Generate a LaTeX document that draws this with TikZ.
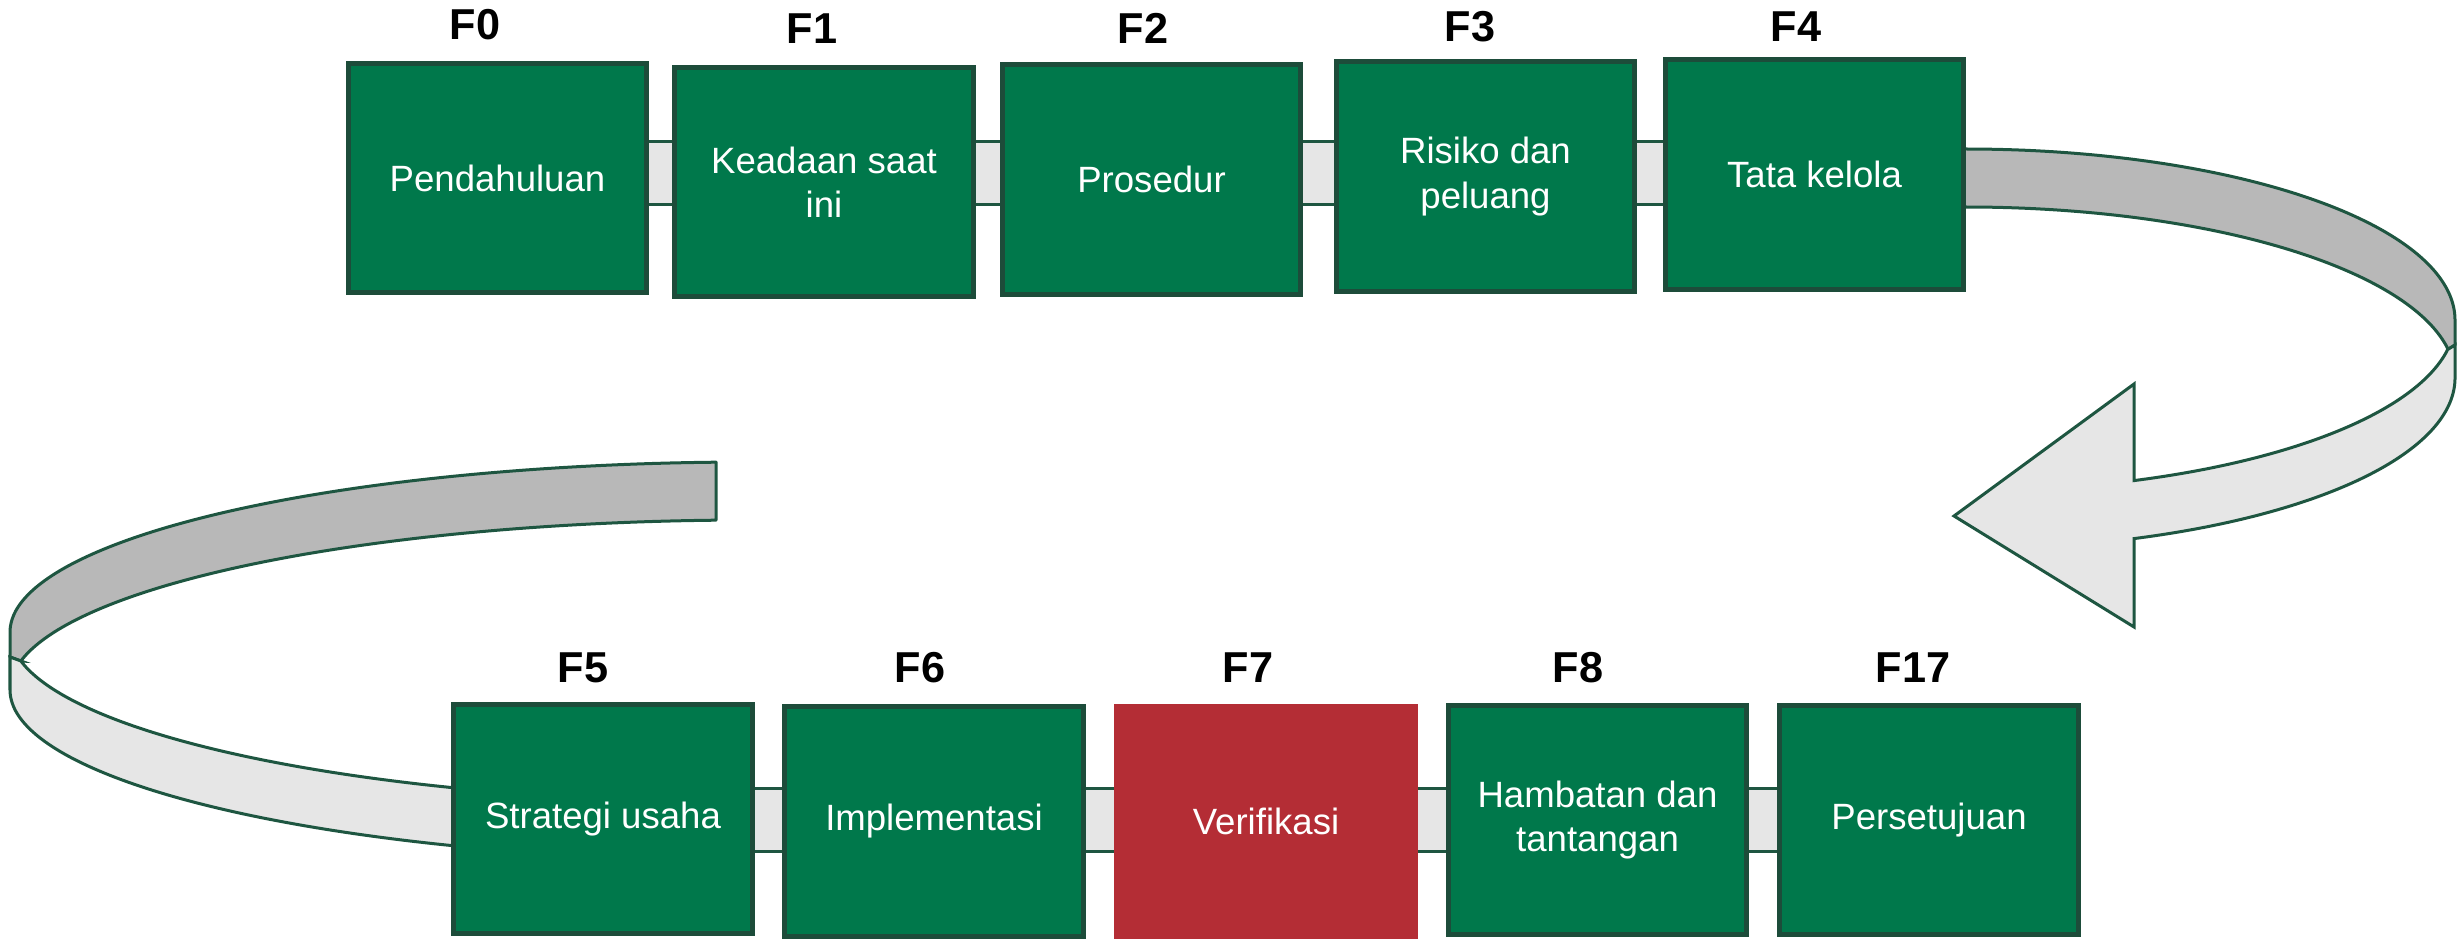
\documentclass[tikz,border=0pt]{standalone}
\usepackage{fontspec}
\setmainfont{Liberation Sans}
\definecolor{gfill}{HTML}{00784B}
\definecolor{gline}{HTML}{1D4C3A}
\definecolor{rfill}{HTML}{B42D35}
\definecolor{lgrey}{HTML}{E6E6E6}
\definecolor{dgrey}{HTML}{B8B8B8}
\definecolor{rline}{HTML}{1E5641}
\tikzset{
  gbox/.style={draw=gline, fill=gfill, line width=0.5mm, minimum width=29.8mm, minimum height=22.9mm,
    inner sep=0pt, text=white, align=center, font=\fontsize{10.4}{12.6}\selectfont},
  rbox/.style={gbox, draw=rfill, fill=rfill},
  flabel/.style={inner sep=0pt, font=\fontsize{12.3}{14}\selectfont\bfseries, text=black},
  barstyle/.style={draw=rline, fill=lgrey, line width=0.3mm},
  ribback/.style={draw=rline, fill=dgrey, line width=0.3mm, line join=round},
  ribfront/.style={draw=rline, fill=lgrey, line width=0.3mm, line join=miter},
}
\begin{document}
\begin{tikzpicture}[x=0.01cm, y=-0.01cm]
\useasboundingbox (0,0) rectangle (2458,940);
% coordinates for bar extents
\coordinate (t1) at (600,142);
\coordinate (t2) at (1700,205);
\coordinate (u1) at (700,788);
\coordinate (u2) at (1800,851);
% connector bars
\draw[barstyle] (t1) rectangle (t2);
\draw[barstyle] (u1) rectangle (u2);
% right ribbon, back part
\filldraw[ribback] (1940,149) -- plot[domain=-90:0, samples=80] ({1966+489*cos(\x)},{320+171*sin(\x)})
  -- (2455,345) -- (2448.5,349)
  -- plot[domain=-9.8:-90, samples=80] ({1966+489*cos(\x)},{378+171*sin(\x)}) -- (1940,207) -- cycle;
% right ribbon, front part with arrow head
\filldraw[ribfront] (2448.5,349) -- (2455,345) -- (2455,378)
  -- plot[domain=0:69.9, samples=80] ({1966+489*cos(\x)},{378+171*sin(\x)})
  -- (2134,627) -- (1954,516) -- (2134,384)
  -- plot[domain=69.9:9.8, samples=80] ({1966+489*cos(\x)},{320+171*sin(\x)}) -- cycle;
% left ribbon, back part
\filldraw[ribback] plot[domain=-92.63:-180, samples=100] ({750+740*cos(\x)},{632+170*sin(\x)})
  -- (10,657) -- (21,661)
  -- plot[domain=-170.18:-92.63, samples=100] ({750+740*cos(\x)},{690+170*sin(\x)}) -- cycle;
% left ribbon, front part
\filldraw[ribfront] (21,661) -- (10,657) -- (10,690)
  -- plot[domain=180:110, samples=80] ({750+740*cos(\x)},{690+170*sin(\x)})
  -- plot[domain=110:170.18, samples=80] ({750+740*cos(\x)},{632+170*sin(\x)}) -- cycle;
% boxes
\node[gbox] (b0) at (497.5,178) {Pendahuluan};
\node[gbox] (b1) at (824,182) {Keadaan saat\\ini};
\node[gbox] (b2) at (1151.5,179.5) {Prosedur};
\node[gbox] (b3) at (1485.5,176.5) {Risiko dan\\peluang};
\node[gbox] (b4) at (1814.5,174.5) {Tata kelola};
\node[gbox] (b5) at (603,819) {Strategi usaha};
\node[gbox] (b6) at (934,821.5) {Implementasi};
\node[rbox] (b7) at (1266,821.5) {Verifikasi};
\node[gbox] (b8) at (1597.5,820) {Hambatan dan\\tantangan};
\node[gbox] (b17) at (1929,820) {Persetujuan};
% labels
\node[flabel] (l0) at (475,25) {F0};
\node[flabel] (l1) at (812,29) {F1};
\node[flabel] (l2) at (1143,28) {F2};
\node[flabel] (l3) at (1470,27) {F3};
\node[flabel] (l4) at (1796,27) {F4};
\node[flabel] (l5) at (583,668) {F5};
\node[flabel] (l6) at (920,668) {F6};
\node[flabel] (l7) at (1248,668) {F7};
\node[flabel] (l8) at (1578,668) {F8};
\node[flabel] (l17) at (1913,668) {F17};
\end{tikzpicture}
\end{document}
